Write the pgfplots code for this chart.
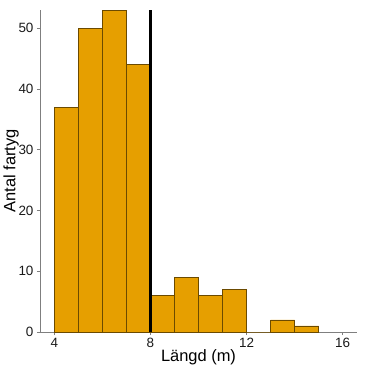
\documentclass[border=0pt]{standalone}
\usepackage{pgfplots}
\pgfplotsset{compat=1.18}
\usepackage{fontspec}
\setmainfont{Liberation Sans}
\definecolor{barfill}{HTML}{E69F00}
\definecolor{baredge}{HTML}{6B4A00}
\definecolor{axgray}{HTML}{7F7F7F}
\definecolor{lblgray}{HTML}{1A1A1A}
\begin{document}
\begin{tikzpicture}
\path[use as bounding box] (-40bp,-35bp) rectangle (327bp,332bp);
\begin{axis}[
  scale only axis,
  width=317bp, height=322bp,
  xmin=3.4, xmax=16.6, ymin=0, ymax=53,
  axis x line*=bottom, axis y line*=left,
  axis line style={axgray, line width=0.8pt, -},
  xtick={4,8,12,16}, ytick={0,10,20,30,40,50},
  tick align=outside, major tick length=3bp,
  tick style={axgray, line width=0.8pt},
  tick label style={font=\fontsize{13.5}{15}\selectfont, text=lblgray},
  /pgf/number format/assume math mode=true,
  xlabel={Längd (m)}, ylabel={Antal fartyg},
  label style={font=\fontsize{16.5}{18}\selectfont, text=black},
  xlabel style={yshift=5bp},
  ylabel style={yshift=-7bp},
  clip=false,
]
\addplot[ybar interval, fill=barfill, draw=baredge, line width=0.5pt] coordinates {
(4,37) (5,50) (6,53) (7,44) (8,6) (9,9) (10,6) (11,7) (12,0) (13,2) (14,1) (15,1)
};
\addplot[draw=black, line width=2.2pt] coordinates {(8,0) (8,53)};
\end{axis}
\end{tikzpicture}
\end{document}
